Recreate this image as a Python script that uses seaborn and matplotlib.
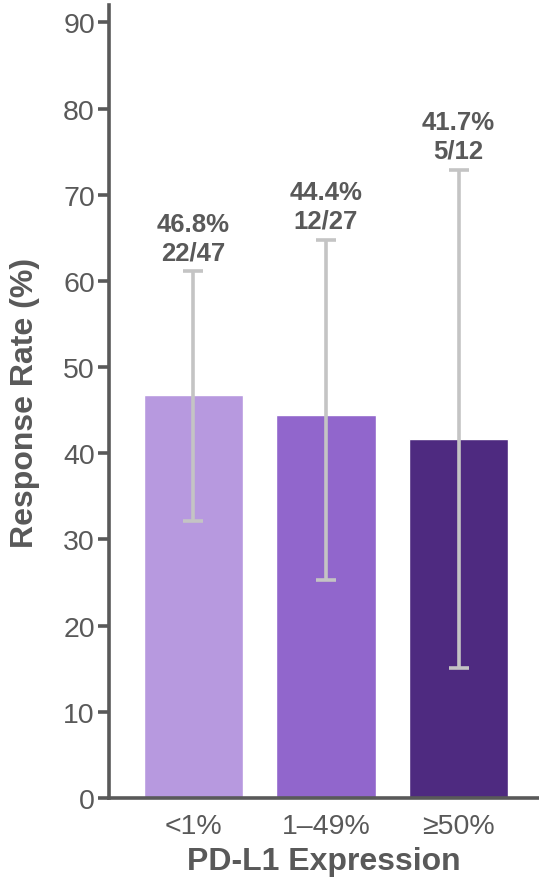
import matplotlib
matplotlib.use('Agg')
import matplotlib.pyplot as plt
import seaborn as sns
import pandas as pd

# data
groups = ['<1%', '1–49%', '≥50%']
rate = [46.8, 44.4, 41.7]
ci_low = [32.1, 25.3, 15.1]
ci_high = [61.1, 64.8, 72.9]
counts = ['22/47', '12/27', '5/12']
colors = ['#B799DF', '#9166CC', '#4E2A80']

grey = '#595959'

sns.set_style('white')
plt.rcParams['font.family'] = ['Liberation Sans', 'DejaVu Sans']

df = pd.DataFrame({'group': groups, 'rate': rate})

fig = plt.figure(figsize=(5.39, 8.79), dpi=100)
ax = fig.add_axes([0.202, 0.091, 0.798, 0.902])

sns.barplot(data=df, x='group', y='rate', hue='group', palette=colors,
            width=0.75, legend=False, ax=ax, saturation=1)

# confidence intervals
xs = list(range(len(groups)))
yerr = [[r - lo for r, lo in zip(rate, ci_low)],
        [hi - r for r, hi in zip(rate, ci_high)]]
ax.errorbar(xs, rate, yerr=yerr, fmt='none', ecolor='#C4C4C4',
            elinewidth=2.6, capsize=7, capthick=2.6, zorder=5)

for x, r, hi, c in zip(xs, rate, ci_high, counts):
    ax.annotate(f'{r:.1f}%\n{c}', xy=(x, hi), xytext=(0, 5),
                textcoords='offset points', ha='center', va='bottom',
                fontsize=18.5, fontweight='bold', color=grey, linespacing=1.25)

ax.set_ylim(0, 92)
ax.set_xlim(-0.638, 2.607)
ax.set_yticks(range(0, 91, 10))

for side in ['top', 'right']:
    ax.spines[side].set_visible(False)
for side in ['left', 'bottom']:
    ax.spines[side].set_color(grey)
    ax.spines[side].set_linewidth(2.6)

ax.tick_params(axis='y', direction='out', length=8, width=2.6, color=grey,
               labelsize=20.5, labelcolor=grey, pad=2, left=True)
ax.tick_params(axis='x', length=0, labelsize=20.5, labelcolor=grey, pad=11)

ax.set_ylabel('Response Rate (%)', fontsize=23, fontweight='bold',
              color=grey, labelpad=17)
ax.set_xlabel('PD-L1 Expression', fontsize=23, fontweight='bold',
              color=grey, labelpad=5)

fig.savefig('out.png', dpi=100)
